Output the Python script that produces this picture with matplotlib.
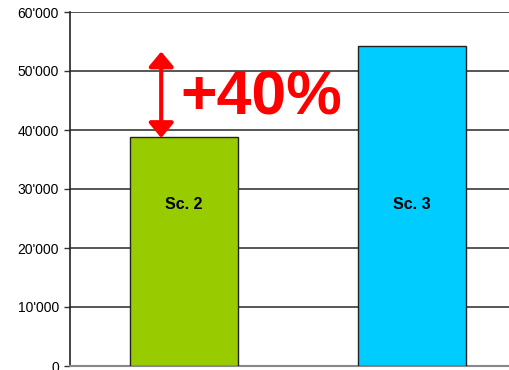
import matplotlib
matplotlib.use("Agg")
import matplotlib.pyplot as plt
from matplotlib.ticker import FuncFormatter

categories = ["Sc. 2", "Sc. 3"]
values = [38800, 54200]
colors = ["#99cc00", "#00ccff"]
yticks = [0, 10000, 20000, 30000, 40000, 50000, 60000]
increase_label = "+40%"

plt.rcParams["font.family"] = ["Liberation Sans", "DejaVu Sans"]

fig = plt.figure(figsize=(5.1, 3.7), dpi=100)
ax = fig.add_axes([70 / 510, 4 / 370, 456 / 510, 354 / 370])

x = list(range(len(categories)))
ax.bar(x, values, width=0.474, color=colors, edgecolor="#222222", linewidth=1.0, zorder=3)

for xi, cat, v in zip(x, categories, values):
    ax.text(xi, 27400, cat, ha="center", va="center", fontsize=11.5,
            fontweight="bold", color="black", zorder=4)

ax.set_xlim(-0.5, 1.5)
ax.set_ylim(0, 60000)
ax.set_yticks(yticks)
ax.yaxis.set_major_formatter(FuncFormatter(lambda v, p: f"{int(v):,}".replace(",", "'")))
ax.tick_params(axis="y", direction="out", length=4, width=1, labelsize=10, pad=4, color="#333333")
ax.tick_params(axis="x", bottom=False, labelbottom=False)
ax.grid(axis="y", color="#3a3a3a", linewidth=1.2, zorder=1)

for side in ["top", "right"]:
    ax.spines[side].set_visible(False)
ax.spines["left"].set_color("#222222")
ax.spines["left"].set_linewidth(1.2)
ax.spines["bottom"].set_color("#888888")
ax.spines["bottom"].set_linewidth(1.5)

# Double-headed arrow marking the increase from Sc. 2
ax.annotate("", xy=(-0.1, 53300), xytext=(-0.1, values[0] - 150),
            arrowprops=dict(arrowstyle="<|-|>,head_length=0.9,head_width=0.75",
                            color="#ff0000", lw=3, shrinkA=0, shrinkB=0),
            zorder=5)
ax.text(-0.015, 45400, increase_label, ha="left", va="center", fontsize=45,
        fontweight="bold", color="#ff0000", zorder=5)

fig.savefig("out.png", dpi=100)
